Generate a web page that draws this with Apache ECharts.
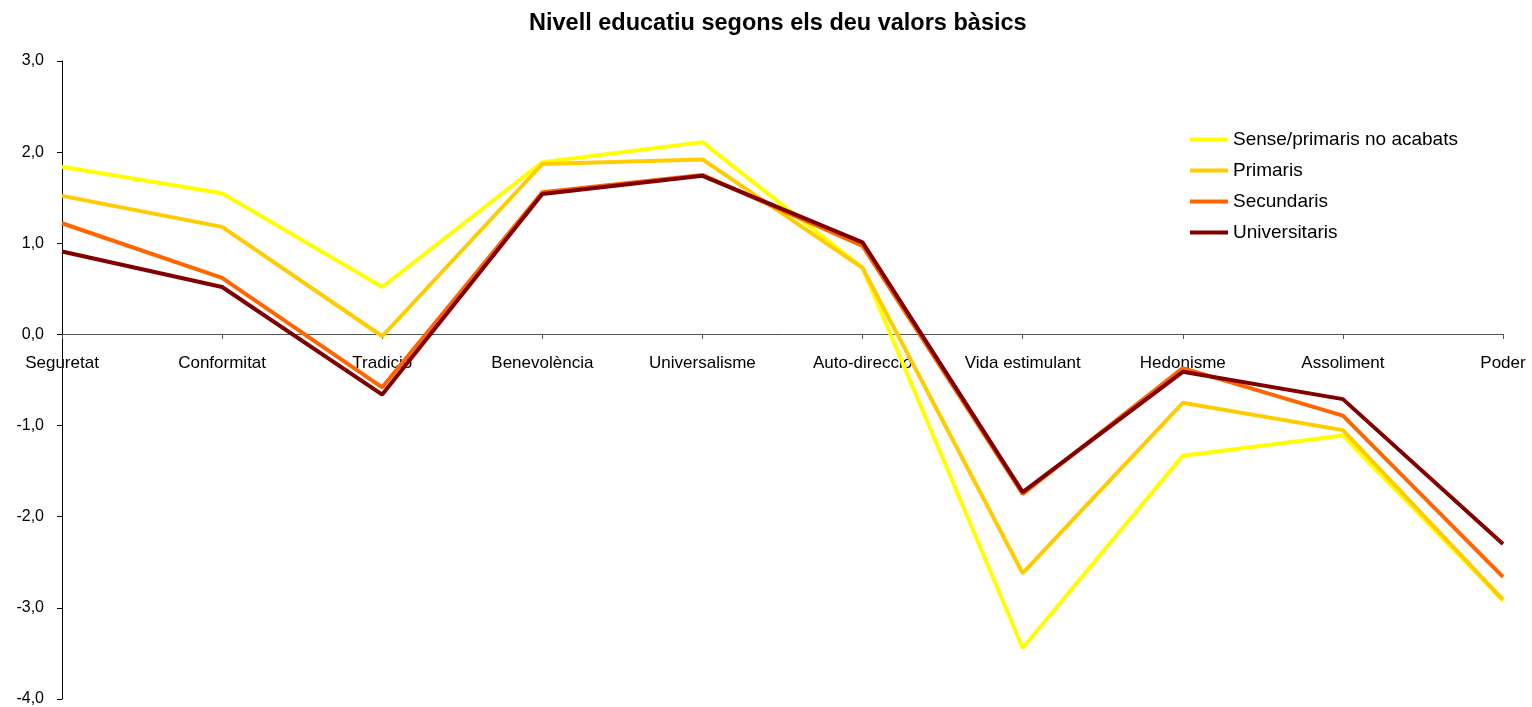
<!DOCTYPE html>
<html>
<head>
<meta charset="utf-8">
<script src="https://cdn.jsdelivr.net/npm/echarts@6/dist/echarts.min.js"></script>
<style>html,body{margin:0;padding:0;background:#fff}#c{width:1532px;height:707px}</style>
</head>
<body>
<div id="c"></div>
<script>
const categories = ['Seguretat','Conformitat','Tradició','Benevolència','Universalisme','Auto-direcció','Vida estimulant','Hedonisme','Assoliment','Poder'];
const seriesNames = ['Sense/primaris no acabats','Primaris','Secundaris','Universitaris'];
const senseValues = [1.84, 1.55, 0.52, 1.89, 2.11, 0.73, -3.44, -1.33, -1.11, -2.92];
const primarisValues = [1.52, 1.18, -0.02, 1.87, 1.92, 0.73, -2.62, -0.75, -1.05, -2.91];
const secundarisValues = [1.22, 0.62, -0.58, 1.56, 1.75, 0.97, -1.75, -0.37, -0.89, -2.66];
const universitarisValues = [0.91, 0.52, -0.66, 1.54, 1.74, 1.01, -1.73, -0.41, -0.71, -2.30];
const colors = ['#FFFF00','#FFCC00','#FF6600','#800000'];
const allValues = [senseValues, primarisValues, secundarisValues, universitarisValues];
const yMin = -4, yMax = 3;

const chart = echarts.init(document.getElementById('c'), null, {renderer:'canvas'});
const gridTop = 61, gridBottom = 8, H = 707;
const plotH = H - gridTop - gridBottom;
const zeroOffset = -Math.round(plotH * (0 - yMin) / (yMax - yMin));
chart.setOption({
  animation: false,
  backgroundColor: '#fff',
  title: {
    text: 'Nivell educatiu segons els deu valors bàsics',
    left: 524, top: 7,
    textStyle: {fontFamily: 'Liberation Sans, Arial', fontWeight: 'bold', fontSize: 23.5, color: '#000'}
  },
  legend: {
    orient: 'vertical', left: 1185, top: 125,
    itemWidth: 38, itemHeight: 4, itemGap: 12, icon: 'rect',
    textStyle: {fontFamily: 'Liberation Sans, Arial', fontSize: 19, color: '#000'},
    data: seriesNames
  },
  grid: {left: 62, right: 29, top: gridTop, bottom: gridBottom, containLabel: false, outerBoundsMode: 'none'},
  xAxis: {
    type: 'category', data: categories, boundaryGap: false,
    offset: zeroOffset,
    axisLine: {onZero: false, lineStyle: {color: '#555', width: 1}},
    axisTick: {show: true, alignWithLabel: true, length: 5, lineStyle: {color: '#555'}},
    axisLabel: {fontFamily: 'Liberation Sans, Arial', fontSize: 17, color: '#000', margin: 21, interval: 0, hideOverlap: false},
    splitLine: {show: false}
  },
  yAxis: {
    type: 'value', min: yMin, max: yMax, interval: 1,
    axisLine: {show: true, lineStyle: {color: '#000'}},
    axisTick: {show: true, length: 5, lineStyle: {color: '#000'}},
    axisLabel: {fontFamily: 'Liberation Sans, Arial', fontSize: 16, color: '#000', margin: 18,
      formatter: v => v.toFixed(1).replace('.', ',')},
    splitLine: {show: false}
  },
  series: seriesNames.map((n, i) => ({
    name: n, type: 'line', data: allValues[i], symbol: 'none',
    lineStyle: {color: colors[i], width: 4}, itemStyle: {color: colors[i]}
  }))
});
</script>
</body>
</html>
